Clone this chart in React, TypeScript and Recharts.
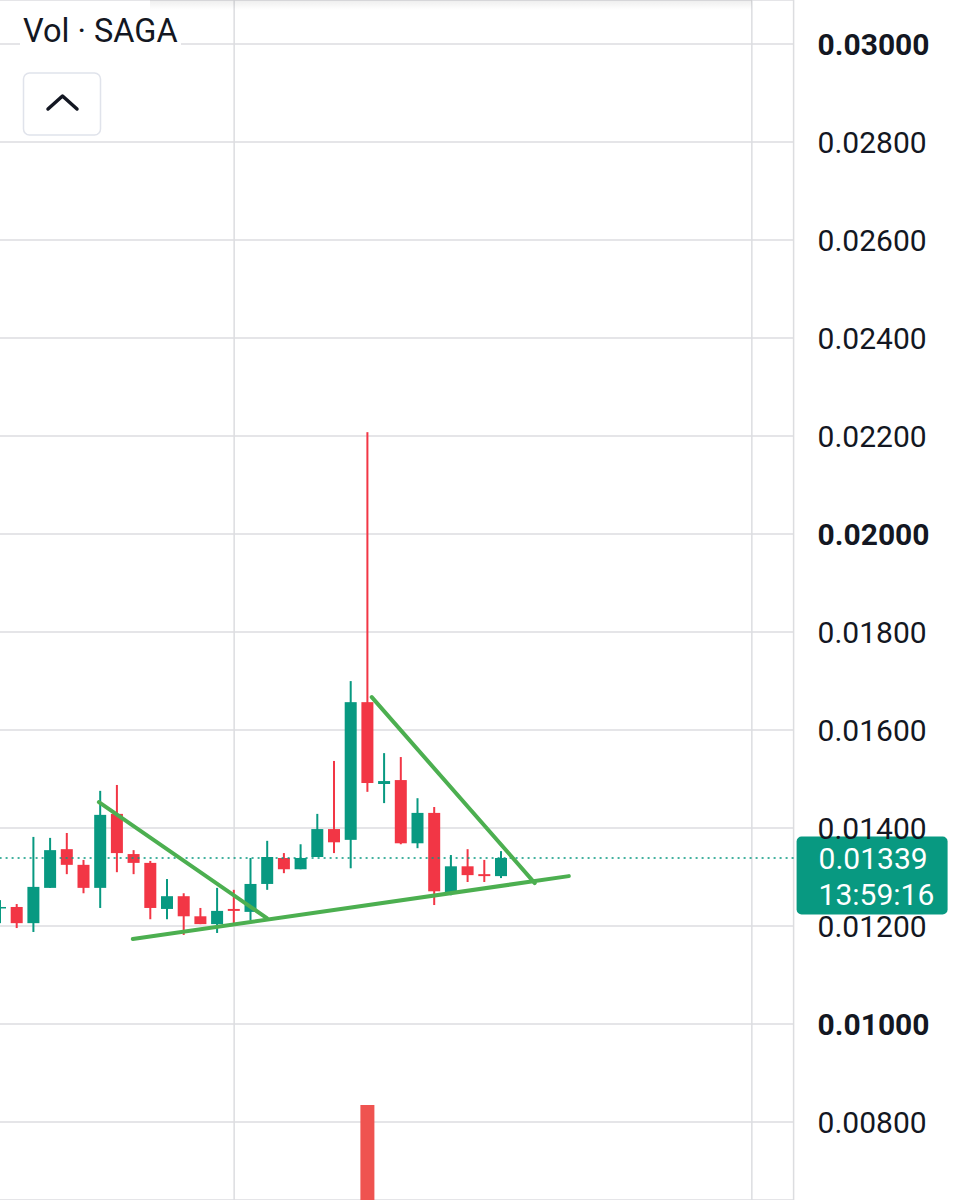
import React from 'react';
import { ComposedChart, Bar, XAxis, YAxis, CartesianGrid, ReferenceLine } from 'recharts';

// ---- data ----
const OPEN = [
  0.01237, 0.01239, 0.01206, 0.01278, 0.01357, 0.01325, 0.01278, 0.01429, 0.01347, 0.01329,
  0.01235, 0.01261, 0.0122, 0.01204, 0.01235, 0.01229, 0.01286, 0.01339, 0.01316, 0.01341,
  0.01398, 0.01376, 0.01657, 0.0149, 0.01498, 0.01369, 0.01431, 0.01269, 0.01322, 0.01306,
  0.01302,
];
const HIGH = [
  0.01253, 0.01245, 0.01382, 0.0138, 0.0139, 0.01335, 0.01476, 0.01488, 0.01355, 0.01333,
  0.01296, 0.01267, 0.01237, 0.01278, 0.01274, 0.01339, 0.01374, 0.01349, 0.01367, 0.01429,
  0.01537, 0.017, 0.02208, 0.01553, 0.01545, 0.01461, 0.01443, 0.01345, 0.01357, 0.01335,
  0.01353,
];
const LOW = [
  0.01206, 0.01196, 0.01188, 0.01278, 0.01306, 0.01267, 0.01237, 0.0131, 0.01306, 0.01214,
  0.01214, 0.01182, 0.01204, 0.01186, 0.01206, 0.01212, 0.01274, 0.01308, 0.01316, 0.01341,
  0.01349, 0.01318, 0.01474, 0.01451, 0.01367, 0.01359, 0.01243, 0.01263, 0.0129, 0.0129,
  0.01298,
];
const CLOSE = [
  0.01239, 0.01206, 0.0128, 0.01355, 0.01325, 0.01278, 0.01427, 0.01349, 0.01329, 0.01237,
  0.01261, 0.0122, 0.01204, 0.01231, 0.01231, 0.01286, 0.01341, 0.01316, 0.01339, 0.01398,
  0.01371, 0.01657, 0.01492, 0.01496, 0.01369, 0.01431, 0.01271, 0.01322, 0.01304, 0.01302,
  0.01339,
];
// only the spike's volume bar is visible in the picture; the rest lie below the frame
const VOLUME: (number | null)[] = [
  null, null, null, null, null, null, null, null, null, null,
  null, null, null, null, null, null, null, null, null, null,
  null, null, 9.5, null, null, null, null, null, null, null,
  null,
];
const SLOT_COUNT = 48; // 31 candles + empty right offset
const PRICE_TICKS = [0.008, 0.01, 0.012, 0.014, 0.016, 0.018, 0.02, 0.022, 0.024, 0.026, 0.028, 0.03];
const BOLD_TICKS = [0.01, 0.02, 0.03];
const PRICE_DOMAIN: [number, number] = [0.00641, 0.0309];
const VOLUME_DOMAIN: [number, number] = [0, 120];
const SLOT_DOMAIN: [number, number] = [-0.5, 47.5];
const GRID_X = [14, 45];
const LAST_PRICE = 0.01339;
const COUNTDOWN = '13:59:16';
const TRENDLINES = [
  [{ x: 5.9, y: 0.014531 }, { x: 15.96, y: 0.012163 }],
  [{ x: 7.93, y: 0.011735 }, { x: 34.04, y: 0.01302 }],
  [{ x: 22.24, y: 0.016673 }, { x: 32.0, y: 0.012878 }],
];
const LEGEND_TEXT = 'Vol · SAGA';

// ---- styles ----
const UP = '#089981';
const DOWN = '#F23645';
const VOL_COLOR = '#EF5350';
const TREND = '#4CAF50';
const GRID = '#dcdde0';
const TEXT = '#131722';
const FONT = 'Roboto, "Noto Sans", sans-serif';

const data = Array.from({ length: SLOT_COUNT }, (_, i) =>
  i < OPEN.length
    ? {
        k: i,
        open: OPEN[i],
        high: HIGH[i],
        low: LOW[i],
        close: CLOSE[i],
        range: [LOW[i], HIGH[i]],
        vol: VOLUME[i],
      }
    : { k: i }
);

const Candle = (props: any) => {
  const { x, y, width, height, payload } = props;
  if (!payload || payload.open == null || x == null || y == null) return null;
  const { open, close, high, low } = payload;
  const color = close >= open ? UP : DOWN;
  const top = Math.min(y, y + height);
  const h = Math.abs(height);
  const span = high - low;
  const ratio = span > 0 ? h / span : 0;
  const yO = top + (high - open) * ratio;
  const yC = top + (high - close) * ratio;
  const bodyTop = Math.min(yO, yC);
  const bodyH = Math.max(Math.abs(yO - yC), 1.5);
  const cx = x + width / 2;
  return (
    <g>
      <rect x={cx - 1} y={top} width={2} height={h} fill={color} />
      <rect x={x} y={bodyTop} width={width} height={bodyH} fill={color} />
    </g>
  );
};

const PriceTick = (props: any) => {
  const { x, y, payload } = props;
  const v = payload.value;
  const bold = BOLD_TICKS.some((b) => Math.abs(b - v) < 1e-9);
  return (
    <text
      x={x + 24}
      y={y}
      dy="0.355em"
      textAnchor="start"
      fontFamily={FONT}
      fontSize={30}
      fontWeight={bold ? 700 : 400}
      fill={TEXT}
    >
      {v.toFixed(5)}
    </text>
  );
};

const PriceTag = (props: any) => {
  const vb = props.viewBox || {};
  const x = (vb.x || 0) + (vb.width || 0) + 3;
  const y = vb.y || 0;
  return (
    <g>
      <rect x={x} y={y - 21.5} width={151} height={78} rx={5} fill={UP} />
      <text x={x + 22} y={y} dy="0.355em" fill="#ffffff" fontFamily={FONT} fontSize={30}>
        {LAST_PRICE.toFixed(5)}
      </text>
      <text x={x + 22} y={y + 36.5} dy="0.355em" fill="#ffffff" fontFamily={FONT} fontSize={30}>
        {COUNTDOWN}
      </text>
    </g>
  );
};

export default function App() {
  return (
    <div style={{ position: 'absolute', left: 0, top: 0, width: 971, height: 1200, overflow: 'hidden', background: '#fff' }}>
      <div style={{ position: 'absolute', left: -7.8, top: 0 }}>
        <ComposedChart
          width={978.8}
          height={1200}
          data={data}
          margin={{ top: 0, right: 0, bottom: 0, left: 0 }}
          barGap={0}
        >
          <XAxis xAxisId="cat" dataKey="k" type="category" hide />
          <XAxis xAxisId="volx" dataKey="k" type="category" hide />
          <XAxis
            xAxisId="num"
            dataKey="k"
            type="number"
            domain={SLOT_DOMAIN}
            ticks={GRID_X}
            hide
            allowDataOverflow
          />
          <YAxis
            yAxisId="price"
            orientation="right"
            type="number"
            domain={PRICE_DOMAIN}
            ticks={PRICE_TICKS}
            interval={0}
            allowDataOverflow
            width={177.2}
            tickSize={0}
            tickMargin={0}
            axisLine={false}
            tickLine={false}
            tick={<PriceTick />}
          />
          <YAxis yAxisId="vol" type="number" domain={VOLUME_DOMAIN} hide allowDataOverflow />
          <CartesianGrid yAxisId="price" xAxisId="num" stroke={GRID} strokeWidth={1.5} />
          <Bar
            xAxisId="volx"
            yAxisId="vol"
            dataKey="vol"
            fill={VOL_COLOR}
            barSize={14}
            isAnimationActive={false}
          />
          <Bar
            xAxisId="cat"
            yAxisId="price"
            dataKey="range"
            barSize={12}
            shape={<Candle />}
            isAnimationActive={false}
          />
          <ReferenceLine
            xAxisId="num"
            yAxisId="price"
            y={LAST_PRICE}
            stroke={UP}
            strokeWidth={1.5}
            strokeDasharray="2 4"
            label={<PriceTag />}
          />
          {TRENDLINES.map((seg, i) => (
            <ReferenceLine
              key={i}
              xAxisId="num"
              yAxisId="price"
              segment={seg}
              stroke={TREND}
              strokeWidth={4}
              strokeLinecap="round"
            />
          ))}
        </ComposedChart>
      </div>
      <svg
        width={971}
        height={1200}
        style={{ position: 'absolute', left: 0, top: 0, pointerEvents: 'none' }}
      >
        <defs>
          <linearGradient id="topShade" x1="0" y1="0" x2="0" y2="1">
            <stop offset="0" stopColor="#000" stopOpacity={0.07} />
            <stop offset="1" stopColor="#000" stopOpacity={0} />
          </linearGradient>
        </defs>
        <rect x={150} y={0} width={602} height={10} fill="url(#topShade)" />
        <rect x={20} y={14} width={161} height={34} fill="#ffffff" />
        <text x={23} y={42} fontFamily={FONT} fontSize={32.5} fill={TEXT}>
          {LEGEND_TEXT}
        </text>
        <rect x={23.5} y={73} width={77} height={62} rx={6} fill="#ffffff" stroke="#e0e3eb" strokeWidth={1.5} />
        <polyline points="48,109 62.5,96 77,109" fill="none" stroke={TEXT} strokeWidth={3.5} strokeLinecap="round" strokeLinejoin="round" />
      </svg>
    </div>
  );
}
